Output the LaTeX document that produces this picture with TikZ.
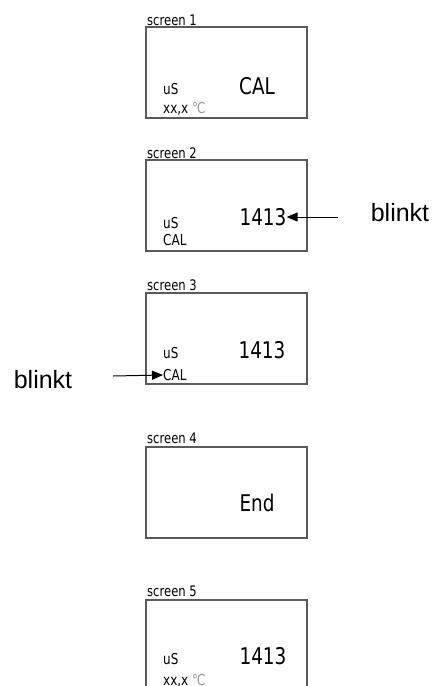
\documentclass[tikz,border=0pt]{standalone}
\usepackage{fontspec}
\setmainfont{DejaVu Sans}
\newfontfamily\lcdfont[FakeStretch=0.8]{DejaVu Sans}
\newfontfamily\notefont{Liberation Sans}
\usepackage{xcolor}
\usepackage{tikz}
\usetikzlibrary{arrows.meta}
\definecolor{framegray}{RGB}{90,90,90}
\definecolor{unitgray}{RGB}{150,150,150}
\tikzset{
	screenbox/.style={draw=framegray,line width=1.4pt,minimum width=161pt,minimum height=91pt,inner sep=0pt},
	screenlabel/.style={anchor=west,inner sep=0pt,font=\lcdfont\fontsize{14.5}{14.5}\selectfont},
	smalltext/.style={anchor=west,inner sep=0pt,font=\lcdfont\fontsize{15}{15}\selectfont},
	bigtext/.style={inner sep=0pt,font=\lcdfont\fontsize{23}{23}\selectfont},
	blinklabel/.style={inner sep=0pt,font=\notefont\fontsize{25}{25}\selectfont}
}
\begin{document}
\begin{tikzpicture}[x=1pt,y=-1pt]
	\useasboundingbox (0,0) rectangle (437,686);
	\clip (0,0) rectangle (437,686);
	%
	%  SCREENS
	%
	\node[screenbox] (s1) at (226.5,72.5) {};
	\node[screenbox] (s2) at (226.5,205.5) {};
	\node[screenbox] (s3) at (226.5,338.5) {};
	\node[screenbox] (s4) at (226.5,492.5) {};
	\node[screenbox] (s5) at (226.5,645.5) {};
	%
	\node[screenlabel] (l1) at (147,20) {screen 1};
	\node[screenlabel] (l2) at (147,153) {screen 2};
	\node[screenlabel] (l3) at (147,285) {screen 3};
	\node[screenlabel] (l4) at (147,438) {screen 4};
	\node[screenlabel] (l5) at (147,591) {screen 5};
	%
	%  DISPLAY TEXT
	%
	\node[bigtext] (cal1) at (257,86) {CAL};
	\node[smalltext] (us1) at (163,89) {uS};
	\node[smalltext] (t1) at (163,109) {xx,x \textcolor{unitgray}{℃}};
	%
	\node[bigtext] (val2) at (263,217) {1413};
	\node[smalltext] (us2) at (163,223) {uS};
	\node[smalltext] (cal2) at (163,240) {CAL};
	%
	\node[bigtext] (val3) at (262,350) {1413};
	\node[smalltext] (us3) at (163,353) {uS};
	\node[smalltext] (cal3) at (163,375) {CAL};
	%
	\node[bigtext] (end4) at (257,503) {End};
	%
	\node[bigtext] (val5) at (263,656) {1413};
	\node[smalltext] (us5) at (163,659) {uS};
	\node[smalltext] (t5) at (163,681) {xx,x \textcolor{unitgray}{℃}};
	%
	%  NOTES
	%
	\node[blinklabel] (b2) at (400,213) {blinkt};
	\node[blinklabel] (b3) at (43,380) {blinkt};
	\coordinate (a2) at (338,217);
	\coordinate (a3) at (113,376);
	\path[-{Triangle[length=11pt,width=9pt]},line width=1pt]
	(a2) edge (val2.east)
	(a3) edge (cal3.west);
\end{tikzpicture}
\end{document}
